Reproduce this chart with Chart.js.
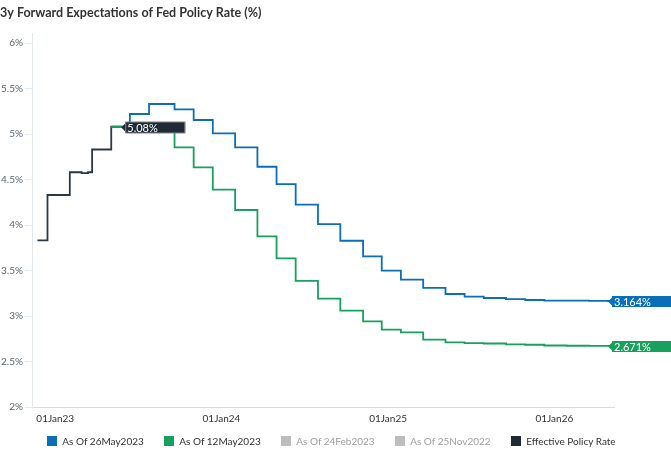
<!DOCTYPE html>
<html>
<head>
<meta charset="utf-8">
<script src="https://cdn.jsdelivr.net/npm/chart.js@4"></script>
<style>
html,body{margin:0;padding:0;background:#fff;}
#wrap{position:relative;width:671px;height:454px;overflow:hidden;}
#legend{position:absolute;left:0;top:435px;width:663px;display:flex;justify-content:center;gap:20.5px;font-family:Lato,sans-serif;font-size:10px;line-height:12px;color:#333;}
#legend .item{display:flex;align-items:center;white-space:nowrap;}
#legend .box{display:inline-block;width:10px;height:10px;margin-right:5px;}
</style>
</head>
<body>
<div id="wrap"><canvas id="c" width="671" height="454"></canvas><div id="legend"></div></div>
<script>
// ---------- DATA ----------
const titleText = '3y Forward Expectations of Fed Policy Rate (%)';
const seriesLabels = ['As Of 26May2023', 'As Of 12May2023', 'As Of 24Feb2023', 'As Of 25Nov2022', 'Effective Policy Rate'];

const effDates  = ['2022-11-23','2022-12-15','2023-02-02','2023-02-28','2023-03-14','2023-03-23','2023-05-04','2023-05-26'];
const effValues = [3.83, 4.33, 4.58, 4.57, 4.58, 4.83, 5.08, 5.08];

const may26Dates  = ['2023-05-26','2023-06-14','2023-07-26','2023-09-20','2023-11-01','2023-12-13','2024-01-31','2024-03-20','2024-05-01','2024-06-12','2024-07-31','2024-09-18','2024-11-07','2024-12-18','2025-01-29','2025-03-19','2025-05-07','2025-06-18','2025-07-30','2025-09-17','2025-10-29','2025-12-10','2026-01-28','2026-03-18','2026-04-29','2026-05-12'];
const may26Values = [5.08, 5.22, 5.33, 5.27, 5.154, 5.007, 4.853, 4.64, 4.45, 4.223, 4.01, 3.827, 3.655, 3.498, 3.40, 3.31, 3.242, 3.212, 3.198, 3.185, 3.176, 3.170, 3.168, 3.166, 3.164, 3.164];

const may12Dates  = ['2023-05-04','2023-06-14','2023-07-26','2023-09-20','2023-11-01','2023-12-13','2024-01-31','2024-03-20','2024-05-01','2024-06-12','2024-07-31','2024-09-18','2024-11-07','2024-12-18','2025-01-29','2025-03-19','2025-05-07','2025-06-18','2025-07-30','2025-09-17','2025-10-29','2025-12-10','2026-01-28','2026-03-18','2026-04-29','2026-05-12'];
const may12Values = [5.08, 5.08, 5.06, 4.853, 4.633, 4.388, 4.165, 3.875, 3.633, 3.385, 3.19, 3.06, 2.94, 2.85, 2.82, 2.74, 2.71, 2.703, 2.698, 2.688, 2.684, 2.676, 2.673, 2.671, 2.671, 2.671];

const feb24Dates = [], feb24Values = [];
const nov25Dates = [], nov25Values = [];

const xTickYears  = [2023, 2024, 2025, 2026];
const xTickLabels = ['01Jan23', '01Jan24', '01Jan25', '01Jan26'];
const yTickValues = [2, 2.5, 3, 3.5, 4, 4.5, 5, 5.5, 6];
const yTickLabels = ['2%', '2.5%', '3%', '3.5%', '4%', '4.5%', '5%', '5.5%', '6%'];
const endLabels   = ['3.164%', '2.671%', null, null, '5.08%'];

// ---------- helpers ----------
function toMs(s){ const p = s.split('-').map(Number); return Date.UTC(p[0], p[1]-1, p[2]); }
function pts(d, v){ return d.map((s,i)=>({x: toMs(s), y: v[i]})); }

const colors = ['#0A6FB8', '#17A05E', '#BDBDBD', '#BDBDBD', '#1F2A36'];
const lineColors = ['#0A6FB8', '#17A05E', '#BDBDBD', '#BDBDBD', '#2E3842'];
const legendTextColors = ['#333333', '#333333', '#A0A0A0', '#A0A0A0', '#333333'];
const labelBoxOffset = [-2, -2, 0, 0, 4];
const labelBoxWidth = [80, 80, 0, 0, 60];

const rawData = [[may26Dates, may26Values],[may12Dates, may12Values],[feb24Dates, feb24Values],[nov25Dates, nov25Values],[effDates, effValues]];

const datasets = rawData.map((r,i)=>({
  label: seriesLabels[i],
  data: pts(r[0], r[1]),
  borderColor: lineColors[i],
  backgroundColor: colors[i],
  borderWidth: 1.8,
  stepped: true,
  pointRadius: 0,
  fill: false
}));

// HTML legend
const legendEl = document.getElementById('legend');
seriesLabels.forEach((lab, i) => {
  const it = document.createElement('div'); it.className = 'item';
  const b = document.createElement('span'); b.className = 'box'; b.style.background = colors[i];
  const t = document.createElement('span'); t.textContent = lab; t.style.color = legendTextColors[i];
  it.appendChild(b); it.appendChild(t); legendEl.appendChild(it);
});

Chart.defaults.font.family = 'Lato';

const endLabelPlugin = {
  id: 'endLabels',
  afterDatasetsDraw(chart){
    const ctx = chart.ctx;
    chart.data.datasets.forEach((ds, i) => {
      if (!endLabels[i]) return;
      const meta = chart.getDatasetMeta(i);
      const last = meta.data[meta.data.length - 1];
      if (!last) return;
      const px = last.x, py = Math.round(last.y) + 0.5;
      const bx = px + labelBoxOffset[i];
      const h = 11;
      ctx.save();
      ctx.fillStyle = colors[i];
      ctx.beginPath();
      ctx.moveTo(bx - 4, py);
      ctx.lineTo(bx, py - 4);
      ctx.lineTo(bx, py + 4);
      ctx.closePath();
      ctx.fill();
      ctx.fillRect(bx, py - h/2, labelBoxWidth[i], h);
      if (i === 4) {
        ctx.strokeStyle = '#7d848b';
        ctx.lineWidth = 1;
        ctx.strokeRect(bx + 0.5, py - h/2, labelBoxWidth[i] - 1, h);
      }
      ctx.fillStyle = '#ffffff';
      ctx.font = '11px Lato';
      ctx.textBaseline = 'middle';
      ctx.textAlign = 'left';
      ctx.fillText(endLabels[i], bx + 2, py + 0.5);
      ctx.restore();
    });
  }
};

new Chart(document.getElementById('c'), {
  type: 'line',
  data: { datasets },
  plugins: [endLabelPlugin],
  options: {
    responsive: false,
    animation: false,
    events: [],
    layout: { padding: { left: 0, right: 8, top: 0, bottom: 25 } },
    plugins: {
      title: {
        display: true,
        text: titleText,
        align: 'start',
        color: '#333',
        font: { size: 12.5, weight: 'bold', family: 'Lato', lineHeight: 1.2 },
        padding: { top: 5, bottom: 13 }
      },
      legend: { display: false },
      tooltip: { enabled: false }
    },
    scales: {
      x: {
        type: 'linear',
        min: toMs('2022-11-11'),
        max: toMs('2026-05-12'),
        afterBuildTicks(scale){ scale.ticks = xTickYears.map(y => ({ value: Date.UTC(y, 0, 1) })); },
        afterFit(scale){ scale.height = 22; },
        grid: { drawOnChartArea: false, drawTicks: false },
        border: { display: true, color: '#d3dbe3', width: 1 },
        ticks: {
          autoSkip: false,
          maxRotation: 0,
          padding: 6,
          color: '#333',
          font: { size: 10 },
          callback(v){ const idx = xTickYears.findIndex(y => Date.UTC(y,0,1) === v); return idx >= 0 ? xTickLabels[idx] : ''; }
        }
      },
      y: {
        type: 'linear',
        min: 2,
        max: 6.11,
        afterBuildTicks(scale){ scale.ticks = yTickValues.map(v => ({ value: v })); },
        afterFit(scale){ scale.width = 32; },
        grid: { drawOnChartArea: false, drawTicks: true, tickLength: 7, color: '#e8ecf0' },
        border: { display: true, color: '#e3e8ee', width: 1 },
        ticks: {
          padding: 2,
          color: '#5b6570',
          font: { size: 10 },
          callback(v){ const idx = yTickValues.indexOf(v); return idx >= 0 ? yTickLabels[idx] : ''; }
        }
      },
      y2: {
        position: 'right',
        display: true,
        afterFit(scale){ scale.width = 49; },
        grid: { display: false, drawTicks: false },
        border: { display: false },
        ticks: { display: false }
      }
    }
  }
});
</script>
</body>
</html>
